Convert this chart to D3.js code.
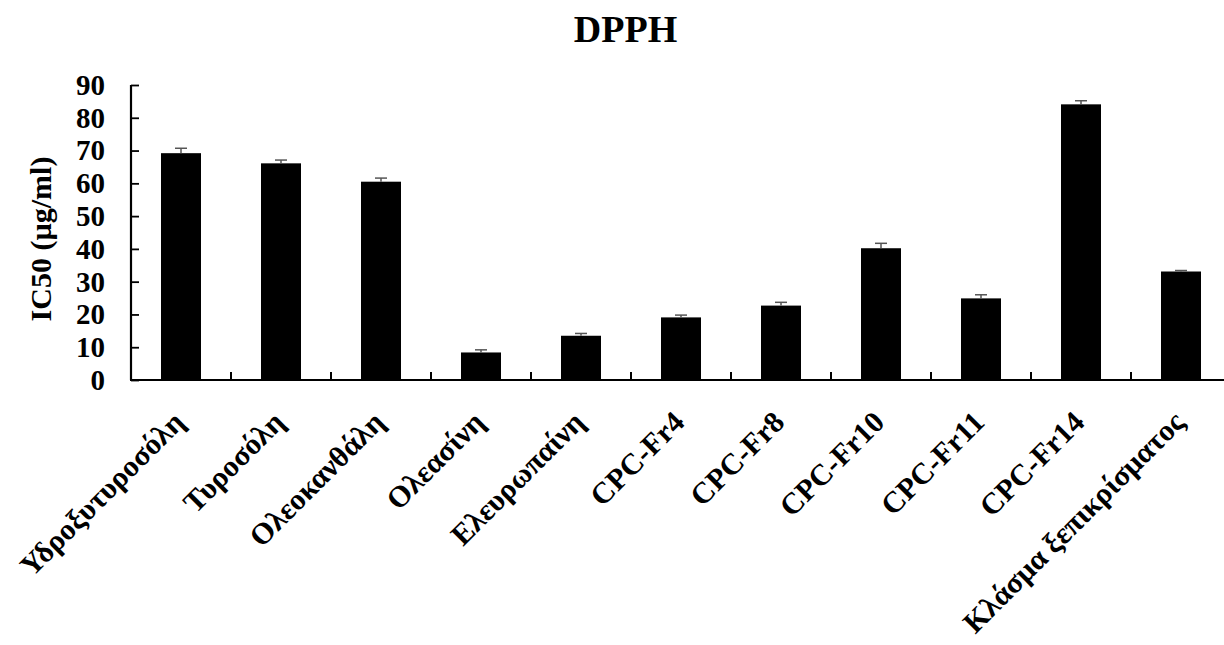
<!DOCTYPE html>
<html>
<head>
<meta charset="utf-8">
<script src="https://cdn.jsdelivr.net/npm/d3@7"></script>
<style>
  html, body { margin: 0; padding: 0; background: #fff; }
  svg { display: block; }
  text { font-family: "Liberation Serif", "Times New Roman", serif; font-weight: bold; fill: #000; }
</style>
</head>
<body>
<svg id="chart" width="1224" height="645"></svg>
<script>
// IC50 values (µg/ml) for DPPH radical scavenging, with upper error
const categories = [
  "Υδροξυτυροσόλη", "Τυροσόλη", "Ολεοκανθάλη", "Ολεασίνη", "Ελευρωπαίνη",
  "CPC-Fr4", "CPC-Fr8", "CPC-Fr10", "CPC-Fr11", "CPC-Fr14", "Κλάσμα ξεπικρίσματος"
];
const ic50 = [69.2, 66.1, 60.5, 8.4, 13.5, 19.1, 22.7, 40.2, 24.9, 84.1, 33.1];
const ic50Err = [1.5, 1.0, 1.1, 0.8, 0.7, 0.7, 1.0, 1.5, 1.1, 1.1, 0.3];
const yTicks = [0, 10, 20, 30, 40, 50, 60, 70, 80, 90];

const svg = d3.select("#chart");
const plotLeft = 131, plotBottom = 380, plotTop = 85, plotRight = 1231;

const x = d3.scaleBand()
  .domain(categories)
  .range([plotLeft, plotRight])
  .paddingInner(0.6)
  .paddingOuter(0.3);

const y = d3.scaleLinear().domain([0, 90]).range([plotBottom, plotTop]);

// title
svg.append("text")
  .attr("x", 625.5).attr("y", 41.5)
  .attr("text-anchor", "middle")
  .style("font-size", "38px")
  .text("DPPH");

// y axis label
svg.append("text")
  .attr("transform", `translate(51,239) rotate(-90)`)
  .attr("text-anchor", "middle")
  .style("font-size", "30px")
  .text("IC50 (µg/ml)");

// bars
svg.append("g").selectAll("rect")
  .data(categories)
  .join("rect")
  .attr("x", d => x(d))
  .attr("width", x.bandwidth())
  .attr("y", (d, i) => y(ic50[i]))
  .attr("height", (d, i) => y(0) - y(ic50[i]))
  .attr("fill", "#000");

// error bars (upper only)
const eg = svg.append("g").attr("stroke", "#555").attr("stroke-width", 1.5);
categories.forEach((d, i) => {
  const cx = x(d) + x.bandwidth() / 2;
  const y0 = y(ic50[i]);
  const y1 = y(ic50[i] + ic50Err[i]);
  eg.append("line").attr("x1", cx).attr("x2", cx).attr("y1", y0).attr("y2", y1);
  eg.append("line").attr("x1", cx - 6).attr("x2", cx + 6).attr("y1", y1).attr("y2", y1);
});

// y axis: inward ticks, labels on the left
const yAxis = d3.axisRight(y).tickValues(yTicks).tickSize(8).tickFormat("");
const yg = svg.append("g").attr("transform", `translate(${plotLeft},0)`).call(yAxis);
yg.select(".domain").attr("stroke", "#000").attr("stroke-width", 2.2)
  .attr("d", `M0,${plotTop}V${plotBottom}`);
yg.selectAll(".tick line").attr("stroke", "#000").attr("stroke-width", 1.8);

svg.append("g").selectAll("text")
  .data(yTicks)
  .join("text")
  .attr("x", 105)
  .attr("y", d => y(d))
  .attr("dy", "0.34em")
  .attr("text-anchor", "end")
  .style("font-size", "29px")
  .text(d => d);

// x axis: baseline and inward dividers between categories
const step = x.step();
const dividers = d3.range(1, categories.length + 1).map(k => plotLeft + k * step);
svg.append("line")
  .attr("x1", plotLeft - 1).attr("x2", plotRight)
  .attr("y1", plotBottom).attr("y2", plotBottom)
  .attr("stroke", "#000").attr("stroke-width", 2.2);
svg.append("g").selectAll("line")
  .data(dividers)
  .join("line")
  .attr("x1", d => d).attr("x2", d => d)
  .attr("y1", plotBottom).attr("y2", plotBottom - 8)
  .attr("stroke", "#000").attr("stroke-width", 2);

// rotated category labels
svg.append("g").selectAll("text")
  .data(categories)
  .join("text")
  .attr("transform", d => `translate(${x(d) + x.bandwidth() / 2 + 5},424) rotate(-45)`)
  .attr("text-anchor", "end")
  .style("font-size", "30px")
  .text(d => d);
</script>
</body>
</html>
